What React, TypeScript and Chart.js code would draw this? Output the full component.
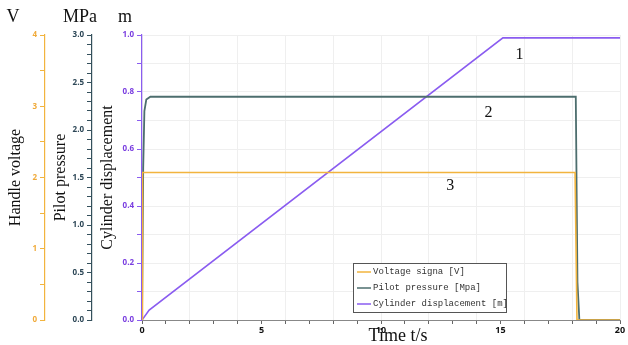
import React, { useEffect, useRef } from 'react';
import { Chart, registerables } from 'chart.js';

Chart.register(...registerables);

// ---- data ----
const timeVoltage = [0, 0.02, 18.12, 18.2, 20];
const voltage = [0, 2.07, 2.07, 0, 0];
const timePressure = [0, 0.05, 0.1, 0.18, 0.35, 18.15, 18.22, 18.3, 20];
const pressure = [0, 1.6, 2.2, 2.32, 2.35, 2.35, 0.4, 0, 0];
const timeDisp = [0, 0.3, 15.1, 20];
const displacement = [0, 0.035, 0.99, 0.99];
const seriesLabels = ['Voltage signa [V]', 'Pilot pressure [Mpa]', 'Cylinder displacement [m]'];
const seriesColors = ['#f2b43e', '#4d6e6e', '#8a5cf0'];
const unitLabels = ['V', 'MPa', 'm'];
const axisTitles = ['Handle voltage', 'Pilot pressure', 'Cylinder displacement'];
const xTitle = 'Time t/s';
const curveNumbers = ['1', '2', '3'];
const curveNumberT = [15.8, 14.5, 12.9];
const curveNumberM = [0.93, 0.726, 0.47];

const pts = (xs: number[], ys: number[]) => xs.map((x, i) => ({ x, y: ys[i] }));
const isMult = (v: number, step: number) => Math.abs(v / step - Math.round(v / step)) < 1e-6;

export default function App() {
  const ref = useRef<HTMLCanvasElement | null>(null);
  useEffect(() => {
    const canvas = ref.current!;
    const textPlugin = {
      id: 'texts',
      beforeDraw(chart: any) {
        const c = chart.ctx;
        c.save();
        c.fillStyle = '#ffffff';
        c.fillRect(0, 0, chart.width, chart.height);
        c.restore();
      },
      afterDraw(chart: any) {
        const c = chart.ctx;
        const s = chart.scales;
        c.save();
        c.fillStyle = '#111';
        c.textAlign = 'center';
        c.textBaseline = 'middle';
        c.font = '18px "Liberation Serif"';
        c.fillText(unitLabels[0], s.yV.right - 32, 17);
        c.fillText(unitLabels[1], s.yP.right - 12, 17);
        c.fillText(unitLabels[2], s.y.right - 17, 17);
        c.font = '18px "Liberation Serif"';
        c.fillText(xTitle, 398, 336);
        c.font = '16px "Liberation Serif"';
        for (let i = 0; i < curveNumbers.length; i++) {
          c.fillText(curveNumbers[i], s.x.getPixelForValue(curveNumberT[i]), s.y.getPixelForValue(curveNumberM[i]));
        }
        // legend
        const lx = 353, ly = 263, lw = 153, lh = 49;
        c.fillStyle = '#ffffff';
        c.fillRect(lx, ly, lw, lh);
        c.strokeStyle = '#555';
        c.lineWidth = 1;
        c.strokeRect(lx + 0.5, ly + 0.5, lw, lh);
        c.font = '9px "Liberation Mono"';
        c.textAlign = 'left';
        for (let i = 0; i < seriesLabels.length; i++) {
          const yy = ly + 9 + i * 16;
          c.strokeStyle = seriesColors[i];
          c.lineWidth = 1.5;
          c.beginPath();
          c.moveTo(lx + 4, yy);
          c.lineTo(lx + 18, yy);
          c.stroke();
          c.fillStyle = '#333';
          c.fillText(seriesLabels[i], lx + 20, yy);
        }
        c.restore();
      },
    };

    const tickFont = { family: '"Open Sans"', size: 8, weight: 'bold' as const };
    const titleFont = { family: '"Liberation Serif"', size: 16 };

    const chart = new Chart(canvas, {
      type: 'line',
      data: {
        datasets: [
          { label: seriesLabels[0], data: pts(timeVoltage, voltage), yAxisID: 'yV', borderColor: seriesColors[0], borderWidth: 1.6, pointRadius: 0, tension: 0 },
          { label: seriesLabels[1], data: pts(timePressure, pressure), yAxisID: 'yP', borderColor: seriesColors[1], borderWidth: 1.8, pointRadius: 0, tension: 0 },
          { label: seriesLabels[2], data: pts(timeDisp, displacement), yAxisID: 'y', borderColor: seriesColors[2], borderWidth: 1.6, pointRadius: 0, tension: 0 },
        ],
      },
      options: {
        responsive: false,
        animation: false,
        events: [],
        layout: { padding: { top: 35, right: 8, left: 0, bottom: 0 } },
        plugins: { legend: { display: false }, tooltip: { enabled: false } },
        scales: {
          x: {
            type: 'linear',
            min: 0,
            max: 20,
            afterFit: (sc: any) => { sc.height = 25; },
            border: { color: '#888', width: 1 },
            grid: {
              color: (ctx: any) => (ctx.tick && isMult(ctx.tick.value, 2) ? '#efefef' : 'rgba(0,0,0,0)'),
              tickColor: '#666',
              tickLength: 4,
            },
            ticks: {
              stepSize: 1,
              autoSkip: false,
              maxRotation: 0,
              padding: 1,
              color: '#111',
              font: { family: '"Open Sans"', size: 9, weight: 'bold' },
              callback: (v: any) => (isMult(Number(v), 5) ? String(v) : ''),
            },
          },
          y: {
            type: 'linear',
            position: 'left',
            weight: 0,
            min: 0,
            max: 1,
            afterFit: (sc: any) => { sc.width = 50; },
            border: { color: '#8a5cf0', width: 1.2 },
            grid: { color: '#efefef', tickColor: '#8a5cf0', tickLength: 5 },
            title: { display: true, text: axisTitles[2], color: '#111', font: titleFont, padding: { top: 6, bottom: 0 } },
            ticks: {
              stepSize: 0.1,
              autoSkip: false,
              padding: 3,
              color: '#7a3ee0',
              font: tickFont,
              callback: (v: any) => (isMult(Number(v), 0.2) ? Number(v).toFixed(1) : ''),
            },
          },
          yP: {
            type: 'linear',
            position: 'left',
            weight: 1,
            min: 0,
            max: 3,
            afterFit: (sc: any) => { sc.width = 47; },
            border: { color: '#34505c', width: 1.2 },
            grid: { drawOnChartArea: false, color: '#34505c', tickColor: '#34505c', tickLength: 5 },
            title: { display: true, text: axisTitles[1], color: '#111', font: titleFont, padding: { top: 6, bottom: 0 } },
            ticks: {
              stepSize: 0.1,
              autoSkip: false,
              padding: 3,
              color: '#2c4656',
              font: tickFont,
              callback: (v: any) => (isMult(Number(v), 0.5) ? Number(v).toFixed(1) : ''),
            },
          },
          yV: {
            type: 'linear',
            position: 'left',
            weight: 2,
            min: 0,
            max: 4,
            afterFit: (sc: any) => { sc.width = 45; },
            border: { color: '#f2b43e', width: 1.2 },
            grid: { drawOnChartArea: false, color: '#f2b43e', tickColor: '#f2b43e', tickLength: 5 },
            title: { display: true, text: axisTitles[0], color: '#111', font: titleFont, padding: { top: 6, bottom: 0 } },
            ticks: {
              stepSize: 0.5,
              autoSkip: false,
              padding: 3,
              color: '#f0aa3a',
              font: tickFont,
              callback: (v: any) => (isMult(Number(v), 1) ? String(v) : ''),
            },
          },
        },
      },
      plugins: [textPlugin],
    } as any);
    return () => chart.destroy();
  }, []);

  return (
    <div style={{ position: 'absolute', left: 0, top: 0, width: 628, height: 345 }}>
      <canvas ref={ref} width={628} height={345} style={{ display: 'block' }} />
    </div>
  );
}
